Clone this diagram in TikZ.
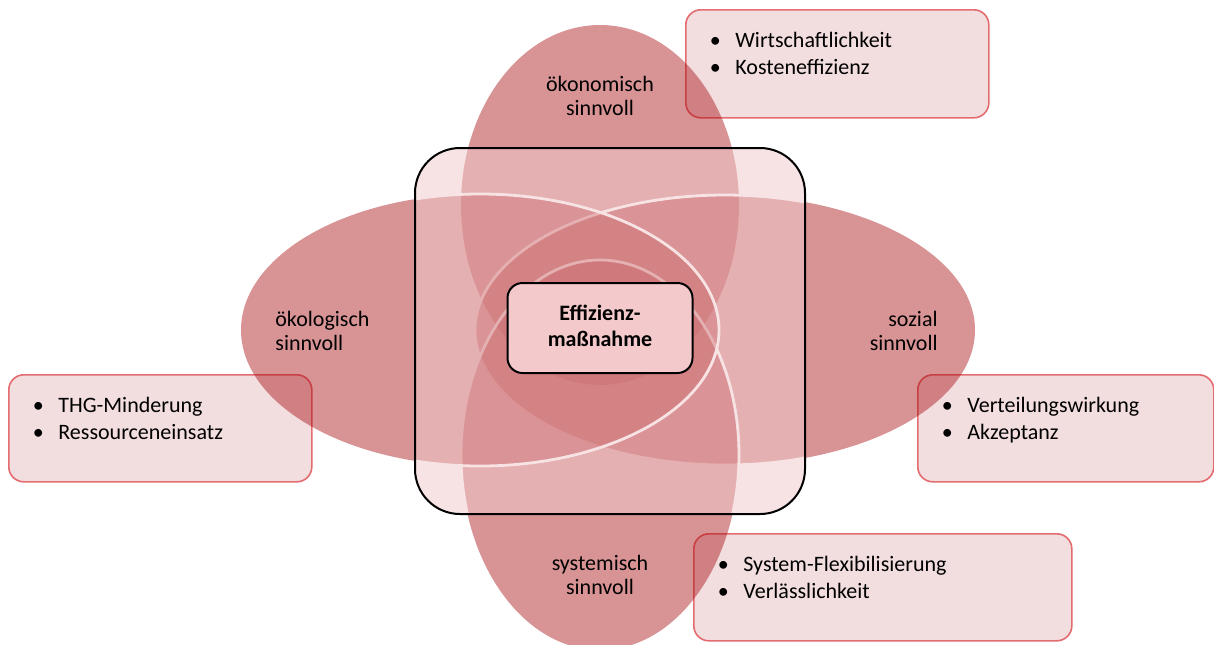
\documentclass[tikz,border=0pt]{standalone}
\usepackage{fontspec}
\setmainfont{Carlito}
\usepackage{tikz}
\usetikzlibrary{calc,positioning,fit}
\definecolor{ovred}{RGB}{165,5,10}
\definecolor{kernpink}{RGB}{240,202,204}
\definecolor{bxfill}{RGB}{242,221,223}
\definecolor{bxline}{RGB}{228,108,112}
\definecolor{mbfill}{RGB}{244,201,203}
\tikzset{bx/.style={draw=bxline,fill=bxfill,rounded corners=7.5pt,line width=0.8pt,inner sep=0pt,anchor=north west},
lst/.style={align=left,inner sep=0pt,font=\fontsize{11}{13.5}\selectfont},
lbl/.style={inner sep=0pt,font=\fontsize{11}{12}\selectfont}}
\newcommand{\itm}[1]{\makebox[10pt]{\textbullet}\hspace{5pt}#1}

\begin{document}
\begin{tikzpicture}[x=0.5pt,y=-0.5pt,kern/.style={draw=black,fill=kernpink,fill opacity=0.53,rounded corners=22.5pt,
					line width=1pt,inner sep=0pt},mb/.style={draw=black,fill=mbfill,rounded corners=7.5pt,line width=1pt,
					inner sep=0pt},mbt/.style={align=center,inner sep=0pt,font=\fontsize{11}{13}\selectfont\bfseries}]
		\useasboundingbox (0,0) rectangle (1214,644);
		\node[bx,minimum width=151.5pt,minimum height=54pt] (bxoek) at (685,9) {};
		\node[bx,minimum width=151.5pt,minimum height=53.5pt] (bxoko) at (8,374) {};
		\node[bx,minimum width=148pt,minimum height=53.5pt] (bxsoz) at (917,374) {};
		\node[bx,minimum width=189pt,minimum height=53.5pt] (bxsys) at (693,533) {};
		\coordinate (sqA) at (415,148);
		\coordinate (sqB) at (805,514);
		\foreach \cx/\cy/\rx/\ry/\lc in {600/205/139/180/none,725/330/250/135/white,600/455/139/195/white,480/330/239/136/white}{
			\fill[ovred,fill opacity=0.43] (\cx,\cy) ellipse [x radius=\rx,y radius=\ry];
			\begin{scope}
				\clip[rounded corners=22.5pt] (sqA) rectangle (sqB);
				\draw[draw=\lc,line width=1.4pt] (\cx,\cy) ellipse [x radius=\rx,y radius=\ry];
			\end{scope}
		}
		\node[kern,fit=(sqA)(sqB)] (kern) {};
		\node[mb,minimum width=92.5pt,minimum height=45pt] (mass) at (600,328) {};
		\node[mbt] (masst) at ([yshift=1pt]mass.center) {Effizienz-\\maßnahme};
		\node[lbl,align=center] (loek) at (600,96) {ökonomisch\\sinnvoll};
		\node[lbl,align=left,anchor=west] (loko) at (275,331) {ökologisch\\sinnvoll};
		\node[lbl,align=right,anchor=east] (lsoz) at (938,331) {sozial\\sinnvoll};
		\node[lbl,align=center] (lsys) at (600,575) {systemisch\\sinnvoll};
		\node[lst,below right=11.5pt and 10pt of bxoek.north west] (toek) {\itm{Wirtschaftlichkeit}\\\itm{Kosteneffizienz}};
		\node[lst,below right=11.5pt and 10pt of bxoko.north west] (toko) {\itm{THG-Minderung}\\\itm{Ressourceneinsatz}};
		\node[lst,below right=11.5pt and 10pt of bxsoz.north west] (tsoz) {\itm{Verteilungswirkung}\\\itm{Akzeptanz}};
		\node[lst,below right=11.5pt and 10pt of bxsys.north west] (tsys) {\itm{System-Flexibilisierung}\\\itm{Verlässlichkeit}};
	\end{tikzpicture}
\end{document}
